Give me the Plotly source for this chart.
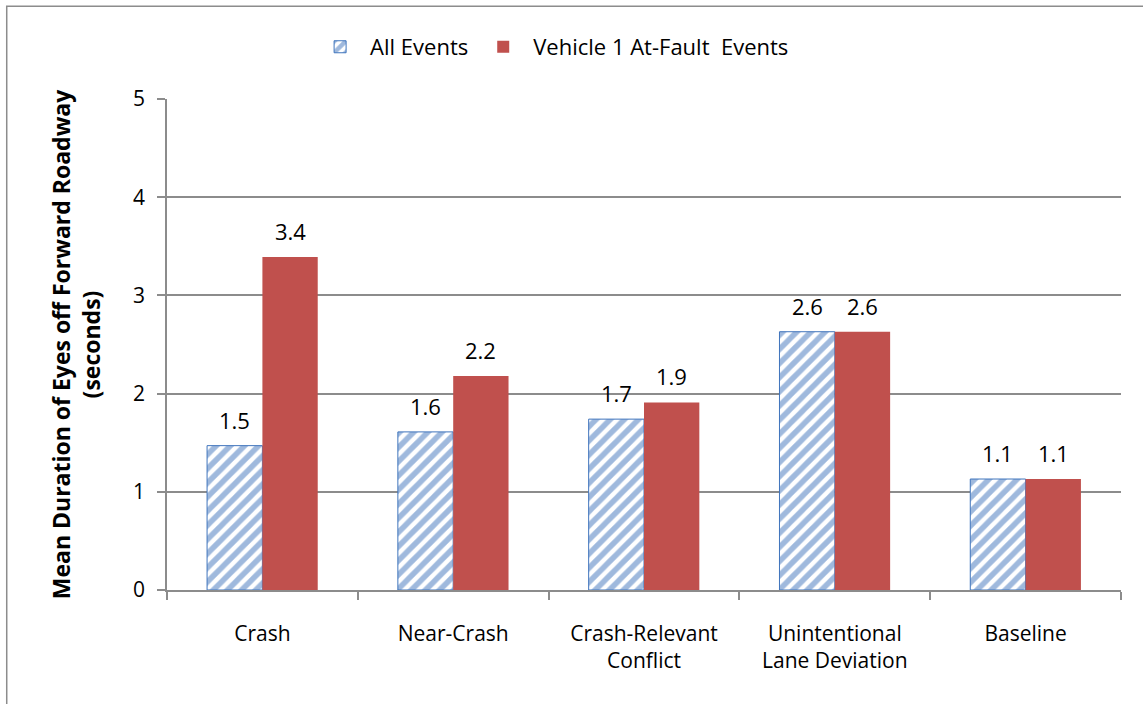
import plotly.graph_objects as go

# --- data ---
categories = ["Crash", "Near-Crash", "Crash-Relevant<br>Conflict",
              "Unintentional<br>Lane Deviation", "Baseline"]
all_events = [1.47, 1.61, 1.74, 2.63, 1.13]
at_fault_events = [3.39, 2.18, 1.91, 2.63, 1.13]
y_ticks = [0, 1, 2, 3, 4, 5]

BLUE = "#3F74BC"
RED = "#C0504D"
GRID = "#8C8C8C"
FONT = "Open Sans"

fig = go.Figure()

fig.add_trace(go.Bar(
    x=categories, y=all_events, name="All Events",
    marker=dict(
        color="white",
        pattern=dict(shape="/", fgcolor=BLUE, bgcolor="white", size=10, solidity=0.55),
        line=dict(color=BLUE, width=1),
    ),
    offsetgroup="a",
))

fig.add_trace(go.Bar(
    x=categories, y=at_fault_events, name="Vehicle 1 At-Fault  Events",
    marker=dict(color=RED, line=dict(width=0)),
    offsetgroup="b",
))

# value labels, sitting a bit above each bar like the Excel original
for vals, shift in [(all_events, -0.145), (at_fault_events, 0.145)]:
    for i, v in enumerate(vals):
        fig.add_annotation(x=i + shift, y=v, text=f"{v:.1f}", showarrow=False,
                           yanchor="bottom", yshift=9,
                           font=dict(size=22, color="black", family=FONT))

# chart-area frame (Excel style)
fig.add_shape(type="rect", xref="paper", yref="paper",
              x0=-0.168, x1=1.1, y0=-0.4, y1=1.189,
              line=dict(color="#8C8C8C", width=1.5), layer="below")

fig.update_layout(
    width=1143, height=704,
    margin=dict(l=167, r=22, t=99, b=114),
    paper_bgcolor="white", plot_bgcolor="white",
    font=dict(family=FONT, size=21, color="black"),
    barmode="group", bargap=0.42, bargroupgap=0,
    legend=dict(orientation="h", x=0.15, xanchor="left", y=1.106, yanchor="middle",
                font=dict(size=22), traceorder="normal", itemwidth=50),
    yaxis=dict(
        range=[0, 5], tickvals=y_ticks, showgrid=True, gridcolor=GRID, gridwidth=1.5,
        showline=True, linecolor=GRID, linewidth=1.5,
        ticks="outside", ticklen=8, tickcolor=GRID, tickwidth=1.5,
        zeroline=False, tickfont=dict(size=21), ticklabelstandoff=8,
        title=dict(text="<b>Mean Duration of Eyes off Forward Roadway<br>(seconds)</b>",
                   font=dict(size=23), standoff=26),
    ),
    xaxis=dict(
        showline=True, linecolor=GRID, linewidth=1.5, mirror=False,
        ticks="outside", tickson="boundaries", ticklen=8, tickcolor=GRID, tickwidth=1.5,
        tickfont=dict(size=21), ticklabelstandoff=24,
    ),
)

fig.write_html("out.html", config={"displayModeBar": False},
               post_script="document.body.style.margin='0px';")
